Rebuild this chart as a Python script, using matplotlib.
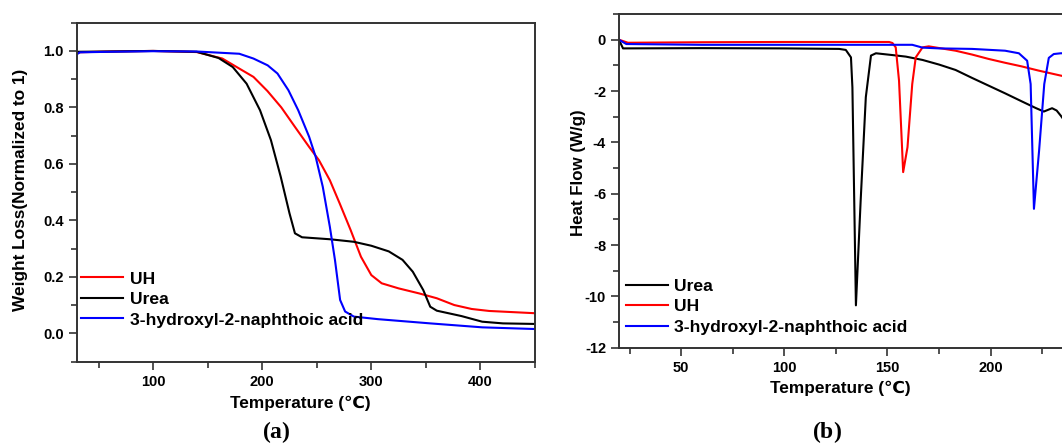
import matplotlib
matplotlib.use("Agg")
import matplotlib.pyplot as plt
from matplotlib.ticker import MultipleLocator, FormatStrFormatter

plt.rcParams['font.family'] = ['Liberation Sans', 'DejaVu Sans']
plt.rcParams['font.weight'] = 'bold'
plt.rcParams['axes.unicode_minus'] = False
plt.rcParams['mathtext.fontset'] = 'custom'
plt.rcParams['mathtext.rm'] = 'Liberation Serif'
plt.rcParams['mathtext.bf'] = 'Liberation Serif:bold'

# (a) TGA curves
tga_urea_t = [30, 60, 100, 140, 160, 173, 185.7, 198, 208, 217, 225, 230, 236.5, 262, 284, 300, 316,
              328.6, 338, 347.6, 354, 360, 382.5, 401.6, 420.6, 450]
tga_urea_w = [0.997, 0.998, 1.0, 0.997, 0.975, 0.943, 0.884, 0.79, 0.684, 0.554, 0.425, 0.354, 0.34,
              0.333, 0.324, 0.31, 0.29, 0.26, 0.218, 0.153, 0.094, 0.08, 0.061, 0.041, 0.035, 0.033]
tga_uh_t = [30, 60, 100, 140, 163.5, 179, 192, 204.8, 217.5, 230, 243, 252, 262, 271, 281, 290.5,
            300, 309.5, 325, 344, 360, 376, 392, 408, 450]
tga_uh_w = [0.995, 0.998, 1.0, 0.996, 0.973, 0.9375, 0.908, 0.858, 0.80, 0.731, 0.66, 0.613, 0.542,
            0.46, 0.366, 0.271, 0.206, 0.177, 0.159, 0.141, 0.124, 0.10, 0.086, 0.079, 0.071]
tga_acid_t = [30, 33, 60, 100, 140, 179, 192, 205, 214, 224, 233, 243, 249, 255.5, 262, 266.7,
              271.4, 276, 284, 306, 354, 401.6, 450]
tga_acid_w = [0.988, 0.995, 0.997, 0.999, 0.998, 0.99, 0.973, 0.949, 0.92, 0.861, 0.79, 0.696,
              0.625, 0.519, 0.377, 0.259, 0.118, 0.077, 0.059, 0.05, 0.035, 0.021, 0.015]

# (b) DSC curves
dsc_urea_t = [19.8, 21.8, 60, 100, 126.6, 129.8, 132.3, 133, 134.7, 137, 139.5, 142, 144.4, 152.4,
              158.9, 167, 175, 183, 191, 199, 207, 215, 221.8, 225.8, 229.8, 232, 234, 238]
dsc_urea_h = [0.0, -0.34, -0.33, -0.34, -0.36, -0.40, -0.69, -1.86, -10.35, -6.27, -2.24, -0.62,
              -0.53, -0.6, -0.66, -0.79, -0.97, -1.18, -1.49, -1.79, -2.09, -2.4, -2.66, -2.8,
              -2.67, -2.76, -2.96, -3.4]
dsc_uh_t = [19.8, 24.2, 60, 100, 150.8, 152.4, 154, 155.6, 157.6, 159.7, 162, 163.7, 167, 170,
            183, 191, 199, 207, 215, 223, 234, 240]
dsc_uh_h = [0.0, -0.12, -0.1, -0.09, -0.09, -0.13, -0.3, -1.6, -5.16, -4.19, -1.73, -0.69, -0.3,
            -0.26, -0.43, -0.58, -0.75, -0.9, -1.04, -1.2, -1.4, -1.5]
dsc_acid_t = [19.8, 23.4, 60, 100, 162, 167, 175, 191, 207, 213.7, 217.7, 219.4, 221, 223.5, 226,
              228.2, 230.6, 234, 240]
dsc_acid_h = [0.0, -0.17, -0.2, -0.2, -0.2, -0.31, -0.34, -0.36, -0.43, -0.53, -0.82, -1.73,
              -6.59, -4.32, -1.73, -0.71, -0.56, -0.53, -0.53]

W, H = 1062, 445
fig = plt.figure(figsize=(W / 100, H / 100), dpi=100)
# axes boxes measured in pixels from the reference (left, top, right, bottom)
ax1 = fig.add_axes([76.7 / W, 1 - 361.5 / H, (535 - 76.7) / W, (361.5 - 22.7) / H])
ax2 = fig.add_axes([619.3 / W, 1 - 347.7 / H, (W - 619.3) / W, (347.7 - 14) / H])


def style(ax):
    for s in ax.spines.values():
        s.set_linewidth(1.4)
        s.set_color('#333333')
    ax.tick_params(which='both', direction='out', top=False, right=False,
                   labelsize=10.5, width=1.2, color='#333333')
    ax.tick_params(which='major', length=6)
    ax.tick_params(which='minor', length=4)
    for lab in ax.get_xticklabels() + ax.get_yticklabels():
        lab.set_fontweight('bold')


ax1.plot(tga_uh_t, tga_uh_w, color='#ff0000', lw=1.5, label='UH')
ax1.plot(tga_urea_t, tga_urea_w, color='black', lw=1.5, label='Urea')
ax1.plot(tga_acid_t, tga_acid_w, color='#0000ff', lw=1.5, label='3-hydroxyl-2-naphthoic acid')
ax1.set_xlim(30, 450)
ax1.set_ylim(-0.1, 1.1)
ax1.xaxis.set_major_locator(MultipleLocator(100))
ax1.xaxis.set_minor_locator(MultipleLocator(50))
ax1.yaxis.set_major_locator(MultipleLocator(0.2))
ax1.yaxis.set_minor_locator(MultipleLocator(0.1))
ax1.yaxis.set_major_formatter(FormatStrFormatter('%.1f'))
style(ax1)
ax1.legend(loc='upper left', bbox_to_anchor=(-0.005, 0.287), frameon=False, fontsize=12.6,
           handlelength=2.4, handletextpad=0.35, labelspacing=0.3, borderaxespad=0.0)

ax2.plot(dsc_urea_t, dsc_urea_h, color='black', lw=1.5, label='Urea')
ax2.plot(dsc_uh_t, dsc_uh_h, color='#ff0000', lw=1.5, label='UH')
ax2.plot(dsc_acid_t, dsc_acid_h, color='#0000ff', lw=1.5, label='3-hydroxyl-2-naphthoic acid')
ax2.set_xlim(20, 234.6)
ax2.set_ylim(-12, 1)
ax2.spines['right'].set_visible(False)
ax2.xaxis.set_major_locator(MultipleLocator(50))
ax2.xaxis.set_minor_locator(MultipleLocator(25))
ax2.yaxis.set_major_locator(MultipleLocator(2))
ax2.yaxis.set_minor_locator(MultipleLocator(1))
style(ax2)
ax2.legend(loc='upper left', bbox_to_anchor=(0.0, 0.228), frameon=False, fontsize=12.6,
           handlelength=2.4, handletextpad=0.35, labelspacing=0.3, borderaxespad=0.0)

# axis titles and panel letters, placed at the reference pixel centres
fig.text(300 / W, 1 - 403.6 / H, 'Temperature (℃)', ha='center', va='center',
         fontsize=12.4, fontweight='bold')
fig.text(840 / W, 1 - 388.3 / H, 'Temperature (℃)', ha='center', va='center',
         fontsize=12.4, fontweight='bold')
fig.text(20.7 / W, 1 - 190 / H, 'Weight Loss(Normalized to 1)', ha='center', va='center',
         rotation=90, fontsize=12.4, fontweight='bold')
fig.text(578 / W, 1 - 173 / H, 'Heat Flow (W/g)', ha='center', va='center',
         rotation=90, fontsize=12.2, fontweight='bold')
fig.text(276 / W, 1 - 432 / H, r'$\mathrm{(}\mathbf{a}\mathrm{)}$', ha='center', va='center',
         fontsize=17)
fig.text(827 / W, 1 - 432 / H, r'$\mathrm{(}\mathbf{b}\mathrm{)}$', ha='center', va='center',
         fontsize=17)

fig.savefig('out.png', dpi=100)
